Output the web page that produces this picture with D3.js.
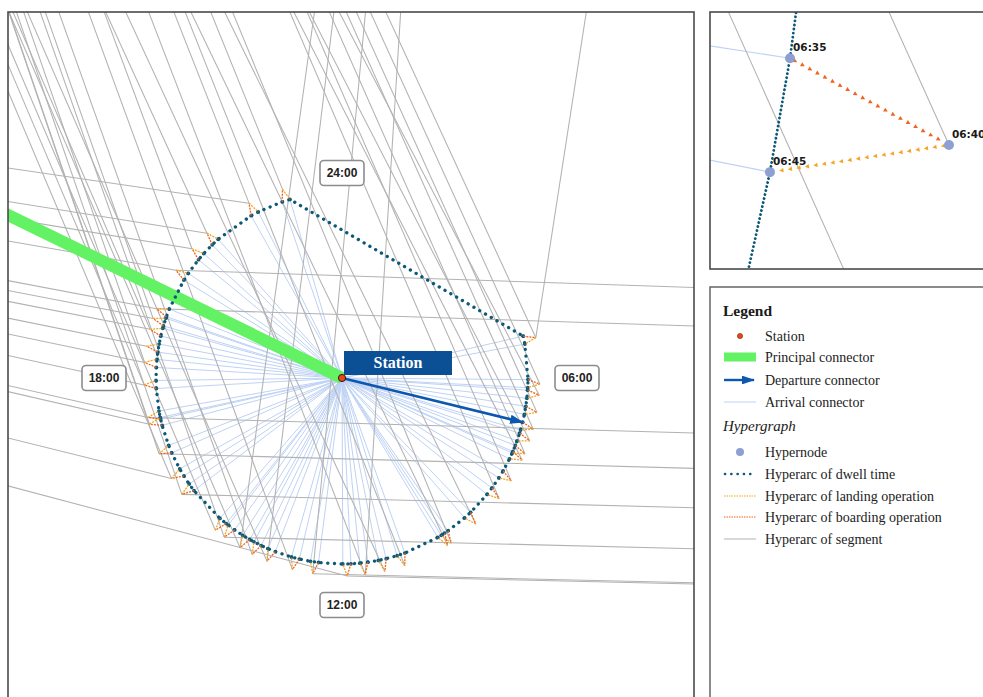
<!DOCTYPE html>
<html>
<head>
<meta charset="utf-8">
<script src="https://cdn.jsdelivr.net/npm/d3@7"></script>
<style>
  body { margin: 0; background: #fff; }
  svg { display: block; }
</style>
</head>
<body>
<svg id="chart" width="983" height="697"></svg>
<script>
// ---- data -------------------------------------------------------------
// scheduled calls of trains at the station (HH:MM)
const trainTimes = ["05:13","06:07","06:20","06:40","07:00","07:14","07:30","07:38","08:05","08:30",
                    "09:10","09:46","09:51","10:46","11:10","11:33","11:54","12:34","12:58","13:29",
                    "13:48","14:04","14:26","14:39","15:36","15:58","16:30","17:06","17:14","17:52",
                    "18:18","18:37","18:57","19:10","19:22","20:12","20:43","21:08","22:08","22:50"];
// neighbouring stations each call is linked to by a running segment
const trainLinks = [["NNE","NW1"],["NW1"],["NW2"],["NW1"],["NW1"],["NW2"],["NW1"],["NW2"],["NW1"],["NW1"],
                    ["NW2"],["NW1"],["NW2"],["NW1"],["NW2"],["N","NW1"],["W","E"],["E","N"],["NW1"],["NW2","N"],
                    ["NW1"],["N","NW2"],["NW1","E"],["NW2"],["NW1","E"],["NW2","W"],["NW1","E"],["W","NW1"],["W","E"],["W","NW2"],
                    ["W","NW1"],["W"],["W","NW2"],["W","NW1"],["W","E"],["W","E"],["W","NW1"],["W","NW2"],["W","NW1"],["NW1"]];
// neighbouring stations, position relative to the station (east, north)
const farStationIds = ["NW1","NW2","N","NNE","E","W","P"];
const farStationX   = [-1400, -1900, 130, 420, 30000, -3000, -1000];
const farStationY   = [3500, 4000, 1500, 1500, -900, 600, 488];
const principalStation = "P";
// dwell time before / after a call, minutes
const dwellMinutes = 5;
// ring radii of the time-expanded station
const ringRadius = 186, callRadius = 198;
const departureCall = "07:00";
const detailCall = "06:40";
// clock labels around the station
const clockLabels = ["24:00","06:00","12:00","18:00"];
const clockLabelRadius = [205, 235, 227, 238];
// legend
const legendTitle = "Legend";
const legendGroupTitle = "Hypergraph";
const legendLabels = ["Station","Principal connector","Departure connector","Arrival connector",
                      "Hypernode","Hyperarc of dwell time","Hyperarc of landing operation",
                      "Hyperarc of boarding operation","Hyperarc of segment"];

// ---- helpers ----------------------------------------------------------
const svg = d3.select("#chart");
const toMin = s => { const [h, m] = s.split(":").map(Number); return h * 60 + m; };
const fmt = m => { m = ((m % 1440) + 1440) % 1440; return String(Math.floor(m / 60)).padStart(2, "0") + ":" + String(m % 60).padStart(2, "0"); };
const angle = d3.scaleLinear().domain([0, 1440]).range([0, 2 * Math.PI]);
const polar = (min, r) => { const a = angle(min); return [r * Math.sin(a), r * Math.cos(a)]; };
const far = Object.fromEntries(farStationIds.map((id, i) => [id, [farStationX[i], farStationY[i]]]));

const COL = {
  dwell: "#0b5877", board: "#f0621d", land: "#f6a323", seg: "#b2b2b2",
  arr: "#bed2f5", dep: "#0c57b0", green: "#63f263", node: "#8e9fd2", station: "#e8481c"
};

// calls, hypernodes and hyperarcs
const calls = trainTimes.map((t, i) => {
  const m = toMin(t);
  return { m, p: polar(m, callRadius), links: trainLinks[i],
           arr: { m: m - dwellMinutes, p: polar(m - dwellMinutes, ringRadius) },
           dep: { m: m + dwellMinutes, p: polar(m + dwellMinutes, ringRadius) } };
});
const dwellNodes = calls.flatMap(c => [c.arr, c.dep]).sort((a, b) => a.m - b.m);
const segments = calls.flatMap(c => c.links.map(id => ({ a: c.p, b: far[id] })));

// ---- scales -----------------------------------------------------------
const xMain = d3.scaleLinear().domain([-334, 352]).range([8, 694]);
const yMain = d3.scaleLinear().domain([366, -319]).range([12, 697]);

const detail = calls.find(c => c.m === toMin(detailCall));
const k = 14.25;
const xInset = d3.scaleLinear().domain([detail.p[0], detail.p[0] + 1]).range([949, 949 + k]);
const yInset = d3.scaleLinear().domain([detail.p[1], detail.p[1] + 1]).range([145, 145 - k]);

// ---- defs -------------------------------------------------------------
const defs = svg.append("defs");
defs.append("clipPath").attr("id", "clipMain").append("rect")
  .attr("x", 8).attr("y", 12).attr("width", 686).attr("height", 700);
defs.append("clipPath").attr("id", "clipInset").append("rect")
  .attr("x", 710).attr("y", 12).attr("width", 290).attr("height", 257);
defs.append("marker").attr("id", "arrow").attr("viewBox", "0 0 12 8")
  .attr("refX", 11).attr("refY", 4).attr("markerWidth", 5.5).attr("markerHeight", 3.7)
  .attr("orient", "auto").attr("markerUnits", "strokeWidth")
  .append("path").attr("d", "M0,0L12,4L0,8z").attr("fill", COL.dep);

// ---- network drawing ---------------------------------------------------
function drawNetwork(g, xs, ys, opt) {
  const P = p => [xs(p[0]), ys(p[1])];
  const seg = (a, b) => "M" + P(a) + "L" + P(b);
  const S = [0, 0];

  g.append("g").selectAll("path").data(dwellNodes).join("path")
    .attr("d", d => seg(S, d.p)).attr("fill", "none")
    .attr("stroke", COL.arr).attr("stroke-width", opt.arrW);

  g.append("g").selectAll("path").data(segments).join("path")
    .attr("d", d => seg(d.a, d.b)).attr("fill", "none")
    .attr("stroke", COL.seg).attr("stroke-width", 1.05);

  if (opt.main) {
    g.append("path").attr("d", seg(S, far[principalStation]))
      .attr("stroke", COL.green).attr("stroke-width", 12).attr("fill", "none");
  }

  const loop = d3.line().x(d => xs(d.p[0])).y(d => ys(d.p[1])).curve(d3.curveLinearClosed);
  g.append("path").attr("d", loop(dwellNodes)).attr("fill", "none")
    .attr("stroke", COL.dwell).attr("stroke-width", opt.dwellW)
    .attr("stroke-dasharray", opt.dwellDash).attr("stroke-linecap", "round");

  if (opt.main) {
    g.append("g").selectAll("circle").data(dwellNodes).join("circle")
      .attr("cx", d => xs(d.p[0])).attr("cy", d => ys(d.p[1])).attr("r", 1.9)
      .attr("fill", COL.dwell);
    const arcs = calls.flatMap(c => [{ a: c.arr.p, b: c.p, col: COL.board }, { a: c.p, b: c.dep.p, col: COL.land }]);
    g.append("g").selectAll("path").data(arcs).join("path")
      .attr("d", d => seg(d.a, d.b)).attr("fill", "none")
      .attr("stroke", d => d.col).attr("stroke-width", 1.3).attr("stroke-dasharray", "2 1.1");
  } else {
    // boarding / landing hyperarcs of the detailed call, drawn as chains of small arrowheads
    const arcs = [{ a: detail.arr.p, b: detail.p, col: COL.board }, { a: detail.p, b: detail.dep.p, col: COL.land }];
    arcs.forEach(arc => {
      const [x1, y1] = P(arc.a), [x2, y2] = P(arc.b);
      const len = Math.hypot(x2 - x1, y2 - y1), rot = Math.atan2(y2 - y1, x2 - x1) * 180 / Math.PI;
      const steps = d3.range(6, len - 4, 8.6);
      g.append("g").selectAll("path").data(steps).join("path")
        .attr("d", "M-2,-2.2L2.2,0L-2,2.2Z").attr("fill", arc.col)
        .attr("transform", s => `translate(${x1 + (x2 - x1) * s / len},${y1 + (y2 - y1) * s / len}) rotate(${rot})`);
    });
    const nodes = [detail.arr, { m: detail.m, p: detail.p }, detail.dep];
    g.append("g").selectAll("circle").data(nodes).join("circle")
      .attr("cx", d => xs(d.p[0])).attr("cy", d => ys(d.p[1])).attr("r", 5).attr("fill", COL.node);
    g.append("g").selectAll("text").data(nodes).join("text")
      .attr("x", d => xs(d.p[0]) + 3).attr("y", d => ys(d.p[1]) - 7)
      .attr("font-family", "DejaVu Sans, sans-serif").attr("font-weight", "bold")
      .attr("font-size", 10.5).attr("fill", "#1a1a1a").text(d => fmt(d.m));
  }
}

// ---- main panel --------------------------------------------------------
const gMain = svg.append("g").attr("clip-path", "url(#clipMain)");
drawNetwork(gMain, xMain, yMain, { main: true, arrW: 1, dwellW: 3.3, dwellDash: "0.1 6.6" });

// departure connector
const depCall = calls.find(c => c.m === toMin(departureCall));
gMain.append("line")
  .attr("x1", xMain(0)).attr("y1", yMain(0))
  .attr("x2", xMain(depCall.arr.p[0])).attr("y2", yMain(depCall.arr.p[1]))
  .attr("stroke", COL.dep).attr("stroke-width", 2.5).attr("marker-end", "url(#arrow)");

// station
gMain.append("circle").attr("cx", xMain(0)).attr("cy", yMain(0)).attr("r", 3.6)
  .attr("fill", COL.station).attr("stroke", "#3a1408").attr("stroke-width", 1);
gMain.append("rect").attr("x", xMain(0) + 2).attr("y", yMain(0) - 27)
  .attr("width", 108).attr("height", 24).attr("fill", "#0b4f95");
gMain.append("text").attr("x", xMain(0) + 56).attr("y", yMain(0) - 10)
  .attr("text-anchor", "middle").attr("font-family", "Liberation Serif, serif")
  .attr("font-weight", "bold").attr("font-size", 16).attr("fill", "#fff").text("Station");

// clock labels
const clk = gMain.append("g").selectAll("g").data(clockLabels).join("g")
  .attr("transform", (d, i) => { const p = polar(toMin(d), clockLabelRadius[i]); return `translate(${xMain(p[0])},${yMain(p[1])})`; });
clk.append("rect").attr("x", -22).attr("y", -12.5).attr("width", 44).attr("height", 25).attr("rx", 4)
  .attr("fill", "#fff").attr("stroke", "#8c8c8c").attr("stroke-width", 1.6);
clk.append("text").attr("text-anchor", "middle").attr("dy", 4.3)
  .attr("font-family", "Liberation Sans, Arial, sans-serif").attr("font-weight", "bold")
  .attr("font-size", 12).attr("fill", "#222").text(d => d);

svg.append("rect").attr("x", 8).attr("y", 12).attr("width", 686).attr("height", 700)
  .attr("fill", "none").attr("stroke", "#4a4a4a").attr("stroke-width", 1.6);

// ---- detail panel -------------------------------------------------------
const gInset = svg.append("g").attr("clip-path", "url(#clipInset)");
drawNetwork(gInset, xInset, yInset, { main: false, arrW: 1.2, dwellW: 2.8, dwellDash: "0.1 4" });
svg.append("rect").attr("x", 710).attr("y", 12).attr("width", 290).attr("height", 257)
  .attr("fill", "none").attr("stroke", "#4a4a4a").attr("stroke-width", 1.6);

// ---- legend -------------------------------------------------------------
const lg = svg.append("g");
lg.append("rect").attr("x", 710).attr("y", 287).attr("width", 290).attr("height", 430)
  .attr("fill", "#fff").attr("stroke", "#5a5a5a").attr("stroke-width", 1.4);
const serif = "Liberation Serif, Times New Roman, serif";
lg.append("text").attr("x", 723).attr("y", 316).attr("font-family", serif).attr("font-weight", "bold")
  .attr("font-size", 15.5).attr("fill", "#1a1a1a").text(legendTitle);
lg.append("text").attr("x", 723).attr("y", 431).attr("font-family", serif).attr("font-style", "italic")
  .attr("font-size", 15).attr("fill", "#1a1a1a").text(legendGroupTitle);

const rowY = [336, 357, 380, 402, 452, 474, 496, 517, 539];
lg.selectAll("text.item").data(legendLabels).join("text").attr("class", "item")
  .attr("x", 765).attr("y", (d, i) => rowY[i] + 4.5)
  .attr("font-family", serif).attr("font-size", 14).attr("fill", "#222").text(d => d);

const sx0 = 724, sx1 = 756;
lg.append("circle").attr("cx", 740).attr("cy", rowY[0]).attr("r", 2.6).attr("fill", COL.station)
  .attr("stroke", "#7a1e08").attr("stroke-width", 0.6);
lg.append("rect").attr("x", sx0).attr("y", rowY[1] - 4.5).attr("width", sx1 - sx0).attr("height", 9).attr("fill", COL.green);
lg.append("line").attr("x1", sx0).attr("x2", sx1 - 2).attr("y1", rowY[2]).attr("y2", rowY[2])
  .attr("stroke", COL.dep).attr("stroke-width", 2.4).attr("marker-end", "url(#arrow)");
lg.append("line").attr("x1", sx0).attr("x2", sx1).attr("y1", rowY[3]).attr("y2", rowY[3])
  .attr("stroke", COL.arr).attr("stroke-width", 1);
lg.append("circle").attr("cx", 740).attr("cy", rowY[4]).attr("r", 4).attr("fill", COL.node);
lg.append("line").attr("x1", sx0 + 1).attr("x2", sx1).attr("y1", rowY[5]).attr("y2", rowY[5])
  .attr("stroke", COL.dwell).attr("stroke-width", 2.6).attr("stroke-dasharray", "0.1 6.2").attr("stroke-linecap", "round");
lg.append("line").attr("x1", sx0).attr("x2", sx1).attr("y1", rowY[6]).attr("y2", rowY[6])
  .attr("stroke", COL.land).attr("stroke-width", 1).attr("stroke-dasharray", "1.5 1");
lg.append("line").attr("x1", sx0).attr("x2", sx1).attr("y1", rowY[7]).attr("y2", rowY[7])
  .attr("stroke", COL.board).attr("stroke-width", 1).attr("stroke-dasharray", "1.5 1");
lg.append("line").attr("x1", sx0).attr("x2", sx1).attr("y1", rowY[8]).attr("y2", rowY[8])
  .attr("stroke", COL.seg).attr("stroke-width", 1);
</script>
</body>
</html>
